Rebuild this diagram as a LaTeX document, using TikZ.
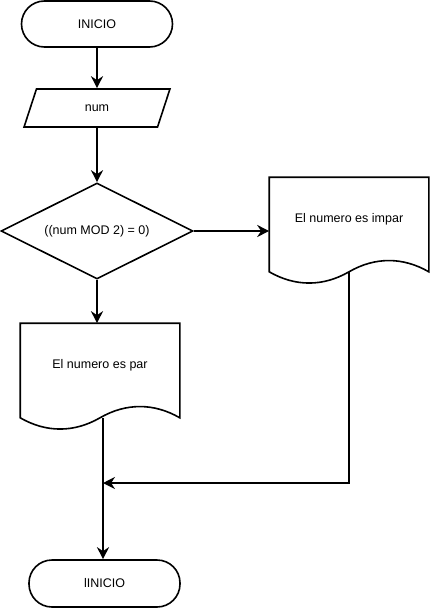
\documentclass[tikz,border=0pt]{standalone}
\usepackage{fontspec}
\setmainfont{Liberation Sans}
\usetikzlibrary{arrows.meta,shapes.geometric}

% outline of a document box: straight top and sides, wavy bottom
\newcommand{\docoutline}[1]{%
  \draw[line width=1.6pt] (#1.south west) -- (#1.north west) -- (#1.north east) -- (#1.south east)
    .. controls +(-26,-15) and +(26,-15) .. (#1.south)
    .. controls +(-26,15) and +(26,15) .. cycle;}

\begin{document}
\begin{tikzpicture}[x=1pt,y=-1pt,font=\fontsize{12.5}{15}\selectfont]
    \useasboundingbox (0,0) rectangle (430,610);
    \begin{scope}[every node/.style={line width=1.6pt, inner sep=0pt}]
        \node[draw, rectangle, rounded corners=23pt, minimum width=151pt, minimum height=46pt] (ini) at (97,24) {INICIO};
        \node[draw, trapezium, trapezium left angle=70, trapezium right angle=110, trapezium stretches=true, minimum width=146pt, minimum height=38pt] (num) at (97,108) {num};
        \node[draw, diamond, aspect=2, minimum width=192pt, minimum height=96pt] (cond) at (97,231) {((num MOD 2) = 0)};
        \node[rectangle, minimum width=158pt, minimum height=93pt, text height=9pt, text depth=14pt] (impar) at (349,224.5) {El numero es impar};
        \node[rectangle, minimum width=158pt, minimum height=93pt, text height=9pt, text depth=14pt] (par) at (100,370.5) {El numero es par};
        \node[draw, rectangle, rounded corners=23pt, minimum width=151pt, minimum height=47pt] (fin) at (104.5,583.5) {lINICIO};
    \end{scope}
    \docoutline{impar}
    \docoutline{par}
    \coordinate (merge) at (103,483);
    \begin{scope}[
        every edge/.style={-{Stealth[length=12pt,width=12pt]},draw=black,line width=1.6pt}]
        \path[->] (ini) edge (num);
        \path[->] (num) edge (cond);
        \path[->] (cond.east) edge (cond.east -| impar.west);
        \path[->] (cond.south) edge (cond.south |- par.north);
        \path[->] (impar.south) edge[to path={|- (\tikztotarget)}] (merge);
        \path[->] (merge |- par.south) edge (merge |- fin.north);
    \end{scope}
\end{tikzpicture}
\end{document}
